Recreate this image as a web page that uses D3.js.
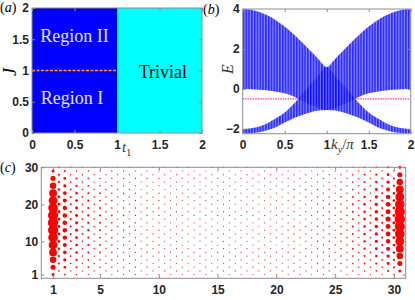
<!DOCTYPE html>
<html>
<head>
<meta charset="utf-8">
<script src="https://cdn.jsdelivr.net/npm/d3@7"></script>
<style>
  body { margin: 0; background: #fff; }
  svg { display: block; }
  .tk text { font-family: "Liberation Sans", Arial, sans-serif; font-weight: bold; font-size: 12px; fill: #262626; }
  .tk path { display: none; }
  .tk line { stroke: #8c8c8c; }
  .serif { font-family: "Liberation Serif", "Times New Roman", serif; }
</style>
</head>
<body>
<svg id="fig" width="415" height="300"></svg>
<script>
// ---- panel (a): phase diagram in the (t1, J) plane
const phaseBounds = [0, 1, 2];          // t1 edges of the two phases
const phaseNames = ['topological', 'trivial'];
const criticalJ = 1;                    // Region I / Region II border
const regionText = ['Region II', 'Region I', 'Trivial'];

// ---- panel (b): band edges vs ky/pi
const kySamples = [0, 0.1, 0.2, 0.3, 0.4, 0.5, 0.6, 0.7, 0.8, 0.9, 1.0,
                   1.1, 1.2, 1.3, 1.4, 1.5, 1.6, 1.7, 1.8, 1.9, 2.0];
const band1Top = [4, 3.96, 3.85, 3.67, 3.43, 3.12, 2.76, 2.36, 1.93, 1.5, 1.1,
                  1.5, 1.93, 2.36, 2.76, 3.12, 3.43, 3.67, 3.85, 3.96, 4];
const band1Bot = [0, -0.01, -0.04, -0.08, -0.14, -0.22, -0.36, -0.58, -0.78, -0.95, -1.05,
                  -0.95, -0.78, -0.58, -0.36, -0.22, -0.14, -0.08, -0.04, -0.01, 0];
const band2Top = [-2, -1.97, -1.88, -1.7, -1.45, -1.18, -0.78, -0.3, 0.2, 0.65, 1.1,
                  0.65, 0.2, -0.3, -0.78, -1.18, -1.45, -1.7, -1.88, -1.97, -2];
const band2Bot = [-2.22, -2.21, -2.17, -2.05, -1.9, -1.68, -1.48, -1.32, -1.18, -1.08, -1.05,
                  -1.08, -1.18, -1.32, -1.48, -1.68, -1.9, -2.05, -2.17, -2.21, -2.22];
const edgeEnergy = -0.5;

// ---- panel (c): edge-state weight on the lattice
const colsA = d3.range(1, 31);          // integer columns, odd rows
const colsB = d3.range(1.5, 31, 1);     // half columns, even rows
const rowsA = d3.range(1, 30, 2);
const rowsB = d3.range(2, 31, 2);
const weightA = [1.0, 0.37, 0.2, 0.12, 0.08, 0.05, 0.03, 0.02, 0.01, 0.01,
                 0, 0, 0, 0, 0, 0, 0, 0, 0, 0,
                 0, 0, 0, 0.01, 0.01, 0.03, 0.04, 0.06, 0.1, 0.2];
const weightB = [0.2, 0.1, 0.06, 0.04, 0.03, 0.01, 0.01, 0, 0, 0,
                 0, 0, 0, 0, 0, 0, 0, 0, 0, 0,
                 0.01, 0.01, 0.02, 0.03, 0.05, 0.08, 0.15, 0.25, 0.42, 1.0];
const rowWeight = [0.2, 0.42, 0.58, 0.72, 0.83, 0.92, 0.97, 1, 0.97, 0.92, 0.83, 0.72, 0.58, 0.42, 0.2];

const svg = d3.select('#fig');
const fmt = d3.format('~g');

function frame(g, x, y, xt, yt) {
  const [x0, x1] = x.range(), [y0, y1] = y.range();
  g.append('g').attr('class', 'tk').attr('transform', `translate(0,${y0})`)
    .call(d3.axisBottom(x).tickValues(xt).tickSize(-3).tickPadding(7).tickFormat(fmt));
  g.append('g').attr('class', 'tk').attr('transform', `translate(0,${y1})`)
    .call(d3.axisTop(x).tickValues(xt).tickSize(-3).tickFormat(''));
  g.append('g').attr('class', 'tk').attr('transform', `translate(${x0},0)`)
    .call(d3.axisLeft(y).tickValues(yt).tickSize(-3).tickPadding(3).tickFormat(fmt));
  g.append('g').attr('class', 'tk').attr('transform', `translate(${x1},0)`)
    .call(d3.axisRight(y).tickValues(yt).tickSize(-3).tickFormat(''));
  g.append('rect').attr('x', x0).attr('y', y1).attr('width', x1 - x0).attr('height', y0 - y1)
    .attr('fill', 'none').attr('stroke', '#8c8c8c').attr('stroke-width', 1);
}

function panelTag(x, y, letter) {
  const t = svg.append('text').attr('class', 'serif').attr('x', x).attr('y', y).attr('font-size', 14).attr('fill', '#000');
  t.append('tspan').text('(');
  t.append('tspan').attr('font-style', 'italic').text(letter);
  t.append('tspan').text(')');
}

// ================= (a)
{
  const g = svg.append('g');
  const x = d3.scaleLinear().domain([0, 2]).range([32, 202]);
  const y = d3.scaleLinear().domain([0, 2]).range([133, 8]);
  const fills = { topological: '#0000ff', trivial: '#00ffff' };
  g.selectAll('rect.phase').data(phaseNames).join('rect')
    .attr('class', 'phase')
    .attr('x', (d, i) => x(phaseBounds[i]))
    .attr('width', (d, i) => x(phaseBounds[i + 1]) - x(phaseBounds[i]))
    .attr('y', y(2)).attr('height', y(0) - y(2))
    .attr('fill', d => fills[d]);
  g.append('line')
    .attr('x1', x(phaseBounds[0])).attr('x2', x(phaseBounds[1]))
    .attr('y1', y(criticalJ)).attr('y2', y(criticalJ))
    .attr('stroke', '#ff9c00').attr('stroke-width', 1.3).attr('stroke-dasharray', '3,1.5');
  const txt = [
    { s: regionText[0], t: 0.5, j: 1.55, c: '#e4e4ff' },
    { s: regionText[1], t: 0.47, j: 0.56, c: '#e4e4ff' },
    { s: regionText[2], t: 1.54, j: 0.98, c: '#000' }
  ];
  g.selectAll('text.reg').data(txt).join('text')
    .attr('class', 'reg serif')
    .attr('x', d => x(d.t)).attr('y', d => y(d.j) + 6)
    .attr('text-anchor', 'middle').attr('font-size', 18)
    .attr('fill', d => d.c).text(d => d.s);
  frame(g, x, y, [0, 0.5, 1, 1.5, 2], [0, 0.5, 1, 1.5, 2]);
  g.append('text').attr('class', 'serif').attr('font-style', 'italic').attr('font-size', 18)
    .attr('transform', 'translate(16,72) rotate(-90)').attr('text-anchor', 'middle').text('J');
  const xl = g.append('text').attr('class', 'serif').attr('font-style', 'italic').attr('font-size', 15)
    .attr('x', 122).attr('y', 152).attr('fill', '#333');
  xl.append('tspan').text('t');
  xl.append('tspan').attr('font-size', 10).attr('font-style', 'normal').attr('dy', 4).text('1');
  panelTag(0, 12, 'a');
}

// ================= (b)
{
  const g = svg.append('g');
  const x = d3.scaleLinear().domain([0, 2]).range([242.7, 410.7]);
  const y = d3.scaleLinear().domain([-2.24, 4]).range([133.7, 9]);
  const defs = svg.append('defs');
  defs.append('clipPath').attr('id', 'clipB').append('rect')
    .attr('x', 242.7).attr('y', 9).attr('width', 168).attr('height', 124.7);
  const pat = defs.append('pattern').attr('id', 'stripes').attr('patternUnits', 'userSpaceOnUse')
    .attr('x', 242.7).attr('y', 0).attr('width', 2.8).attr('height', 10);
  pat.append('rect').attr('width', 2.8).attr('height', 10).attr('fill', '#7a7aff');
  pat.append('rect').attr('width', 1.6).attr('height', 10).attr('fill', '#0000ff');

  const body = g.append('g').attr('clip-path', 'url(#clipB)');
  body.append('line')
    .attr('x1', x(0)).attr('x2', x(2)).attr('y1', y(edgeEnergy)).attr('y2', y(edgeEnergy))
    .attr('stroke', '#ff1040').attr('stroke-width', 1).attr('stroke-dasharray', '1.5,1');
  const bands = [[band1Bot, band1Top], [band2Bot, band2Top]];
  const area = (lo, hi) => d3.area()
    .x((d, i) => x(kySamples[i]))
    .y0((d, i) => y(lo[i]))
    .y1((d, i) => y(hi[i]))
    .curve(d3.curveMonotoneX)(kySamples);
  body.selectAll('path.band').data(bands).join('path')
    .attr('class', 'band')
    .attr('d', d => area(d[0], d[1]))
    .attr('fill', 'url(#stripes)').attr('fill-opacity', 0.85);
  frame(g, x, y, [0, 0.5, 1, 1.5, 2], [-2, 0, 2, 4]);
  g.append('text').attr('class', 'serif').attr('font-style', 'italic').attr('font-size', 16)
    .attr('transform', 'translate(233,69) rotate(-90)').attr('text-anchor', 'middle').attr('fill', '#333').text('E');
  const xl = g.append('text').attr('class', 'serif').attr('font-style', 'italic').attr('font-size', 15)
    .attr('x', 331).attr('y', 149).attr('fill', '#333');
  xl.append('tspan').text('k');
  xl.append('tspan').attr('font-size', 10).attr('dy', 4).text('y');
  xl.append('tspan').attr('dy', -4).attr('font-style', 'normal').text('/');
  xl.append('tspan').text('π');
  panelTag(203, 14, 'b');
}

// ================= (c)
{
  const g = svg.append('g');
  const x = d3.scaleLinear().domain([0, 31]).range([41.3, 405.7]);
  const y = d3.scaleLinear().domain([0, 30]).range([278.3, 167.3]);
  const r = d3.scaleLinear().domain([0, 1]).range([0.6, 5.2]);
  const sites = [];
  colsA.forEach((cx, i) => rowsA.forEach((cy, j) => sites.push({ cx, cy, w: weightA[i] * rowWeight[j] })));
  colsB.forEach((cx, i) => rowsB.forEach((cy, j) => sites.push({ cx, cy, w: weightB[i] * rowWeight[j] })));
  g.selectAll('circle').data(sites).join('circle')
    .attr('cx', d => x(d.cx)).attr('cy', d => y(d.cy))
    .attr('r', d => r(d.w))
    .attr('fill', d => d.w > 0 ? '#ff0000' : '#d03030');
  frame(g, x, y, [1, 5, 10, 15, 20, 25, 30], [1, 10, 20, 30]);
  panelTag(0, 172, 'c');
}
</script>
</body>
</html>
